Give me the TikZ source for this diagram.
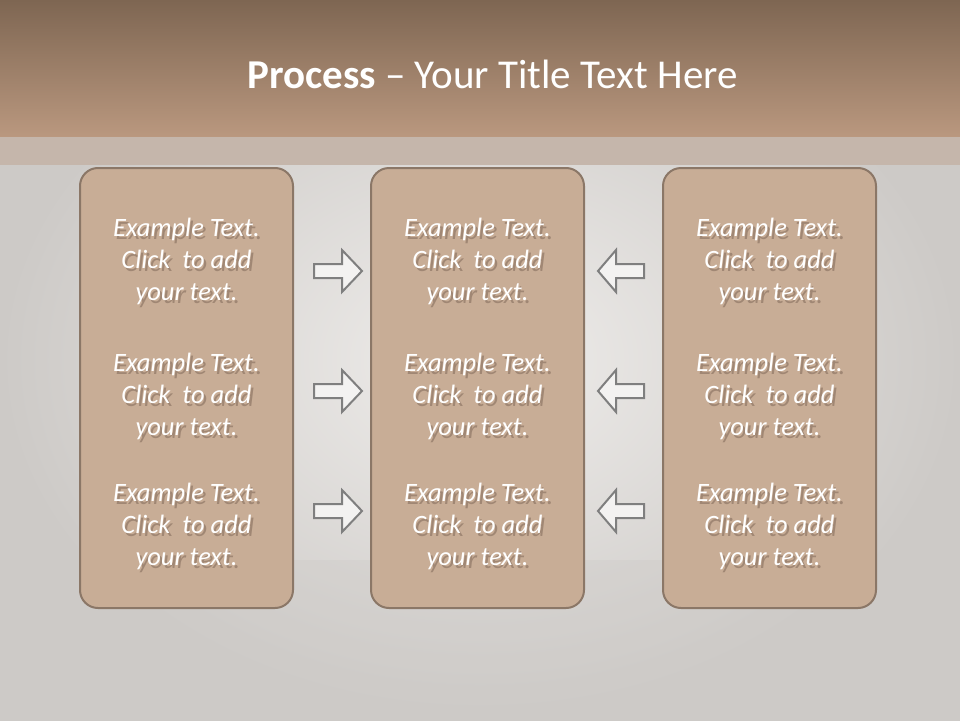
\documentclass[tikz,border=0pt]{standalone}
\usepackage{fontspec}
\setmainfont{Carlito}
\usetikzlibrary{shadings}
\definecolor{hdtop}{HTML}{7E6652}
\definecolor{hdbot}{HTML}{BA987F}
\definecolor{band}{HTML}{C5B6AB}
\definecolor{bggray}{HTML}{CDCAC7}
\definecolor{bglight}{HTML}{EFEDEB}
\definecolor{boxfill}{HTML}{C8AD96}
\definecolor{boxline}{HTML}{8B7767}
\definecolor{arrfill}{HTML}{F3F2F1}
\definecolor{arrline}{HTML}{7F7F7F}
\definecolor{shad}{HTML}{A08774}
\tikzset{
  panel/.style={draw=boxline, line width=2pt, fill=boxfill, rounded corners=18pt},
  blockarrow/.style={draw=arrline, line width=2pt, fill=arrfill, line join=miter},
  txt/.style={align=center, font=\fontsize{26.5}{32}\selectfont\itshape, text=white, inner sep=0pt},
}
\newcommand{\exlines}{\begin{tabular}{@{}c@{}}Example Text.\\Click\ \ to add\\your text.\end{tabular}}
\newcommand{\exampletext}{\makebox[0pt][l]{\hspace{2.5pt}\raisebox{-3pt}{\color{shad}\exlines}}\exlines}
\begin{document}
\begin{tikzpicture}[x=1pt,y=-1pt]
\useasboundingbox (0,0) rectangle (960,720);
% background
\shade[inner color=bglight, outer color=bggray] (0,0) rectangle (960,720);
\fill[bggray, opacity=0.35] (0,560) rectangle (960,720);
% header
\shade[top color=hdtop, bottom color=hdbot] (0,0) rectangle (960,137);
\fill[band] (0,137) rectangle (960,165);
\node[text=white, font=\fontsize{41}{46}\selectfont, inner sep=0pt] (title) at (492.5,74) {\textbf{Process} -- Your Title Text Here};
% panels
\node[panel, minimum width=213pt, minimum height=440pt] (p1) at (186.5,388) {};
\node[panel, minimum width=213pt, minimum height=440pt] (p2) at (477.5,388) {};
\node[panel, minimum width=213pt, minimum height=440pt] (p3) at (769.5,388) {};
% texts
\foreach \cx/\nm in {186.5/a,477.5/b,769.5/c}{
  \foreach \cy/\r in {264/1,399/2,529/3}{
    \node[txt] (t\nm\r) at (\cx,\cy) {\exampletext};
  }
}
% arrows
\foreach \cy/\r in {271/1,391/2,511/3}{
  \coordinate (ra\r) at (338,\cy);
  \draw[blockarrow] (314,\cy-7) -- (342,\cy-7) -- (342,\cy-21) -- (362,\cy) -- (342,\cy+21) -- (342,\cy+7) -- (314,\cy+7) -- cycle;
  \coordinate (la\r) at (620,\cy);
  \draw[blockarrow] (644,\cy-7) -- (616,\cy-7) -- (616,\cy-21) -- (598,\cy) -- (616,\cy+21) -- (616,\cy+7) -- (644,\cy+7) -- cycle;
}
\end{tikzpicture}
\end{document}
